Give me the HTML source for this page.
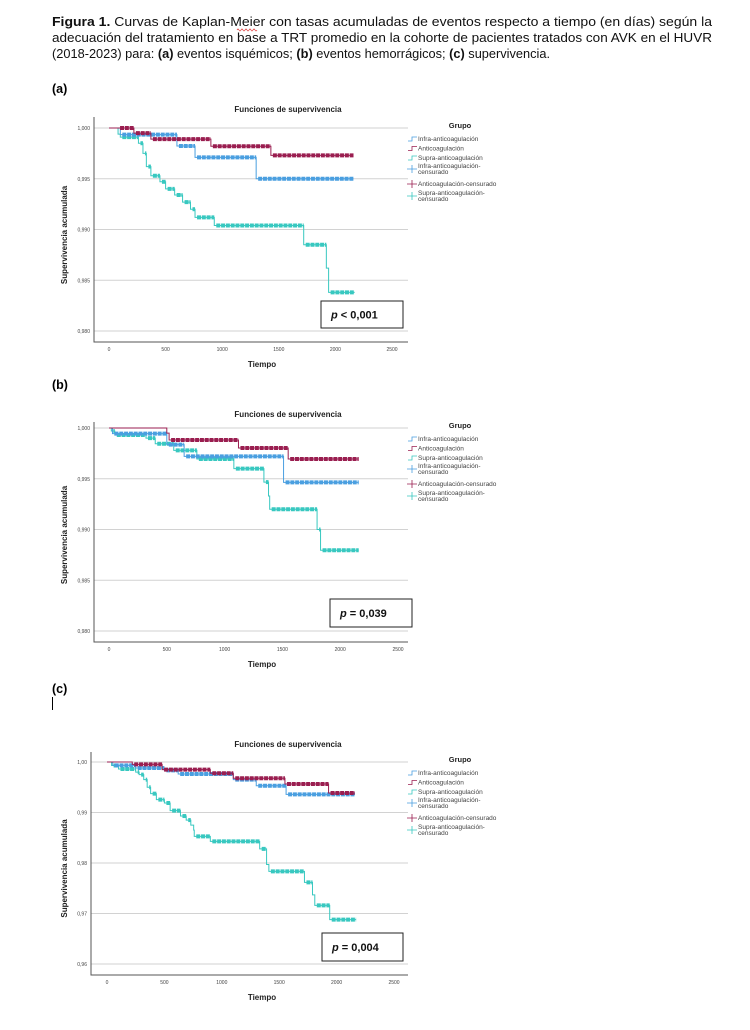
<!DOCTYPE html>
<html><head><meta charset="utf-8"><style>
html,body{margin:0;padding:0;background:#fff;}
svg{display:block;font-family:"Liberation Sans",sans-serif;}
</style></head><body>
<svg id="page" width="750" height="1030" viewBox="0 0 750 1030" xmlns="http://www.w3.org/2000/svg">
<g font-size="12.5" fill="#111">
<text x="52" y="26" textLength="660" lengthAdjust="spacingAndGlyphs"><tspan font-weight="bold">Figura 1.</tspan> Curvas de Kaplan-Meier con tasas acumuladas de eventos respecto a tiempo (en días) según la</text>
<text x="52" y="42" textLength="660" lengthAdjust="spacingAndGlyphs">adecuación del tratamiento en base a TRT promedio en la cohorte de pacientes tratados con AVK en el HUVR</text>
<text x="52" y="58" textLength="498" lengthAdjust="spacingAndGlyphs">(2018-2023) para: <tspan font-weight="bold">(a)</tspan> eventos isquémicos; <tspan font-weight="bold">(b)</tspan> eventos hemorrágicos; <tspan font-weight="bold">(c)</tspan> supervivencia.</text>
<path d="M237 30 q1 -2 2 0 q1 2 2 0 q1 -2 2 0 q1 2 2 0 q1 -2 2 0 q1 2 2 0 q1 -2 2 0 q1 2 2 0 q1 -2 2 0 q1 2 2 0" stroke="#d33" stroke-width="0.7" fill="none"/>
</g>
<text x="52" y="93" font-size="12.5" font-weight="bold">(a)</text>
<text x="52" y="389" font-size="12.5" font-weight="bold">(b)</text>
<text x="52" y="693" font-size="12.5" font-weight="bold">(c)</text>
<line x1="52.5" y1="697" x2="52.5" y2="710" stroke="#000" stroke-width="1"/>
<g id="charts"></g>
</svg>
<script>
// ---- data: step functions [time, survival] ----
const xTicks = [0, 500, 1000, 1500, 2000, 2500];
const groups = ["Infra-anticoagulación", "Anticoagulación", "Supra-anticoagulación"];
const yTicksA = [1.000, 0.995, 0.990, 0.985, 0.980];
const yTickLabelsA = ["1,000", "0,995", "0,990", "0,985", "0,980"];
const yTicksC = [1.00, 0.99, 0.98, 0.97, 0.96];
const yTickLabelsC = ["1,00", "0,99", "0,98", "0,97", "0,96"];

const a_infra = [[0,1],[100,0.99935],[600,0.99823],[760,0.9971],[1300,0.995],[2160,0.995]];
const a_anti = [[0,1],[80,1],[220,0.9995],[370,0.9989],[900,0.9982],[1430,0.9973],[2160,0.9973]];
const a_supra = [[0,1],[80,0.9994],[100,0.9991],[260,0.9985],[300,0.9975],[330,0.9962],[370,0.9953],[450,0.9947],[500,0.9940],[580,0.9934],[650,0.9927],[720,0.9920],[760,0.9912],[930,0.9904],[1720,0.9885],[1920,0.9862],[1940,0.9838],[2170,0.9838]];

const b_infra = [[0,1],[30,0.99944],[500,0.99836],[650,0.9972],[1510,0.99464],[2160,0.99464]];
const b_anti = [[0,1],[500,0.9995],[520,0.99882],[1120,0.99803],[1550,0.99694],[2160,0.99694]];
const b_supra = [[0,1],[20,0.9997],[50,0.99931],[320,0.999],[400,0.99845],[560,0.9978],[760,0.99694],[1080,0.996],[1340,0.99467],[1380,0.9933],[1390,0.992],[1800,0.990],[1830,0.98796],[2160,0.98796]];

const c_infra = [[0,1],[50,0.99934],[250,0.99881],[500,0.99835],[620,0.99762],[1100,0.9965],[1300,0.9953],[1560,0.9936],[2160,0.9936]];
const c_anti = [[0,1],[220,0.99954],[480,0.99848],[900,0.99776],[1100,0.99677],[1550,0.99564],[1930,0.99386],[2160,0.99386]];
const c_supra = [[0,1],[40,0.9993],[100,0.99861],[250,0.998],[280,0.9975],[320,0.9965],[350,0.995],[380,0.99373],[430,0.99254],[500,0.99188],[550,0.99036],[640,0.9893],[690,0.9885],[730,0.9875],[755,0.9865],[760,0.98528],[900,0.98428],[1330,0.9828],[1390,0.9797],[1410,0.97835],[1720,0.97617],[1790,0.9737],[1810,0.97162],[1940,0.96878],[2170,0.96878]];

const colors = ["#4a9fe0", "#9a1e50", "#38c8c0"];

const panels = [
  {id:"a", top:95, axisX:94, x0:109, x2500:392, yTopV:1.000, yTopPx:128, yBotV:0.980, yBotPx:331, base:342, right:408,
   ticks:yTicksA, labels:yTickLabelsA, series:[a_infra,a_anti,a_supra], p:"< 0,001", pbox:[321,301,82,27], legY:139},
  {id:"b", top:400, axisX:94, x0:109, x2500:398, yTopV:1.000, yTopPx:428, yBotV:0.980, yBotPx:631, base:642, right:408,
   ticks:yTicksA, labels:yTickLabelsA, series:[b_infra,b_anti,b_supra], p:"= 0,039", pbox:[330,599,82,28], legY:439},
  {id:"c", top:730, axisX:91, x0:107, x2500:394, yTopV:1.00, yTopPx:762, yBotV:0.96, yBotPx:964, base:975, right:408,
   ticks:yTicksC, labels:yTickLabelsC, series:[c_infra,c_anti,c_supra], p:"= 0,004", pbox:[322,933,81,28], legY:773}
];

const NS = "http://www.w3.org/2000/svg";
const root = document.getElementById("charts");
function mk(tag, attrs, parent, text){
  const e = document.createElementNS(NS, tag);
  for (const k in attrs) e.setAttribute(k, attrs[k]);
  if (text !== undefined) e.textContent = text;
  parent.appendChild(e);
  return e;
}

panels.forEach(P => {
  const g = mk("g", {}, root);
  
  
  const xs = t => P.x0 + t / 2500 * (P.x2500 - P.x0);
  const ys = v => P.yTopPx + (P.yTopV - v) / (P.yTopV - P.yBotV) * (P.yBotPx - P.yTopPx);

  const title = mk("text", {x:288, y:P.top + 17, "font-size":8, "font-weight":"bold", "text-anchor":"middle", fill:"#222"}, g, "Funciones de supervivencia");
  
  

  P.ticks.forEach((v, i) => {
    const gl = mk("line", {x1:P.axisX, x2:P.right, y1:ys(v), y2:ys(v), stroke:"#d2d2d2", "stroke-width":1}, g);
    
    
    const tl = mk("text", {x:P.axisX - 4, y:ys(v) + 2, "font-size":5, "text-anchor":"end", fill:"#444"}, g, P.labels[i]);
    
    
  });
  xTicks.forEach(t => {
    const tl = mk("text", {x:xs(t), y:P.base + 9, "font-size":5, "text-anchor":"middle", fill:"#444"}, g, String(t));
    
    
  });
  const ax = mk("path", {d:`M${P.axisX} ${P.top + 22} V${P.base} H${P.right}`, stroke:"#555", "stroke-width":1, fill:"none"}, g);
  
  

  const yt = mk("text", {transform:`translate(67 ${(P.yTopPx + P.base) / 2}) rotate(-90)`, "font-size":8, "font-weight":"bold", "text-anchor":"middle", fill:"#222"}, g, "Supervivencia acumulada");
  
  
  const xt = mk("text", {x:262, y:P.base + 25, "font-size":8, "font-weight":"bold", "text-anchor":"middle", fill:"#222"}, g, "Tiempo");
  
  

  [2, 0, 1].forEach(si => {
    const s = P.series[si];
    const sg = mk("g", {}, g);
    
    
    let d = `M${xs(s[0][0])} ${ys(s[0][1])}`;
    for (let i = 1; i < s.length; i++) d += ` H${xs(s[i][0])} V${ys(s[i][1])}`;
    const pl = mk("path", {d, stroke:colors[si], "stroke-width":1, fill:"none"}, sg);
    
    
    for (let i = 1; i < s.length; i++) {
      const t0 = s[i][0], t1 = (i + 1 < s.length) ? s[i + 1][0] : s[i][0];
      if (t1 - t0 > 25) {
        const seg = mk("line", {x1:xs(t0) + 2, x2:xs(t1), y1:ys(s[i][1]), y2:ys(s[i][1]), stroke:colors[si], "stroke-width":4, "stroke-dasharray":"4 0.8"}, sg);
        
        
      }
    }
  });

  const [bx, by, bw, bh] = P.pbox;
  const pb = mk("g", {}, g);
  
  
  mk("rect", {x:bx, y:by, width:bw, height:bh, fill:"#fff", stroke:"#222", "stroke-width":1}, pb);
  const pt = mk("text", {x:bx + 10, y:by + bh / 2 + 4, "font-size":11, "font-weight":"bold", fill:"#111"}, pb);
  mk("tspan", {"font-style":"italic"}, pt, "p");
  mk("tspan", {}, pt, " " + P.p);

  const lg = mk("g", {}, g);
  
  
  mk("text", {x:460, y:P.legY - 11, "font-size":7.5, "font-weight":"bold", "text-anchor":"middle", fill:"#222"}, lg, "Grupo");
  const entries = [
    {lines:["Infra-anticoagulación"], c:0, step:true},
    {lines:["Anticoagulación"], c:1, step:true},
    {lines:["Supra-anticoagulación"], c:2, step:true},
    {lines:["Infra-anticoagulación-", "censurado"], c:0, step:false},
    {lines:["Anticoagulación-censurado"], c:1, step:false},
    {lines:["Supra-anticoagulación-", "censurado"], c:2, step:false}
  ];
  const offs = [0, 9.5, 19, 27, 45, 54];
  entries.forEach((e, i) => {
    const y = P.legY + offs[i];
    const eg = mk("g", {}, lg);
    
    
    const iy = e.lines.length > 1 ? y + 3 : y;
    if (e.step) mk("path", {d:`M408 ${iy + 2} H412 V${iy - 2} H417`, stroke:colors[e.c], "stroke-width":0.8, fill:"none"}, eg);
    else mk("path", {d:`M407 ${iy} H417 M412 ${iy - 4} V${iy + 4}`, stroke:colors[e.c], "stroke-width":0.8, fill:"none"}, eg);
    e.lines.forEach((l, k) => mk("text", {x:418, y:y + 2 + k * 6, "font-size":6.5, fill:"#444"}, eg, l));
  });
});
</script>
</body></html>
